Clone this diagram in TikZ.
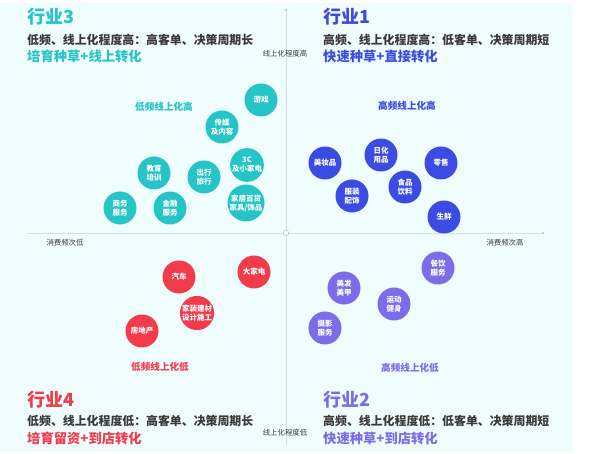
\documentclass[tikz,border=0pt]{standalone}
\usepackage{fontspec}
\setmainfont{Noto Sans CJK SC}
\usepackage{tikz}

\definecolor{panelbg}{HTML}{F0FDFE}
\definecolor{axisgray}{HTML}{D5E2E4}
\definecolor{inkgray}{HTML}{3A3A3A}
\definecolor{tealc}{HTML}{26C4C6}
\definecolor{bluec}{HTML}{3C4CE2}
\definecolor{lavc}{HTML}{7B6CE8}
\definecolor{redc}{HTML}{F23C4C}

\tikzset{
  bubble/.style={circle, minimum size=33pt, inner sep=0pt, text=white, align=center,
    font=\bfseries\fontsize{7.5}{9}\selectfont},
  tealbubble/.style={bubble, fill=tealc},
  bluebubble/.style={bubble, fill=bluec},
  lavbubble/.style={bubble, fill=lavc},
  redbubble/.style={bubble, fill=redc},
  title/.style={anchor=west, inner sep=0pt, font=\bfseries\fontsize{18}{20}\selectfont},
  subtitle/.style={anchor=west, inner sep=0pt, text=inkgray, font=\bfseries\fontsize{11.9}{13}\selectfont},
  strategy/.style={anchor=west, inner sep=0pt, font=\bfseries\fontsize{13.3}{15}\selectfont},
  zonelabel/.style={inner sep=0pt, font=\bfseries\fontsize{9.6}{11}\selectfont},
  axislabel/.style={inner sep=0pt, text=inkgray, font=\fontsize{7.4}{8}\selectfont}
}

\begin{document}
\begin{tikzpicture}[x=1pt,y=-1pt]
  \useasboundingbox (0,0) rectangle (600,454);
  \fill[panelbg] (0,3) rectangle (573,452);

  % axes
  \coordinate (xl) at (27,233);
  \coordinate (xr) at (543,233);
  \coordinate (yt) at (286,10);
  \coordinate (yb) at (286,445);
  \coordinate (o) at (286,233);
  \draw[axisgray, line width=0.8pt] (xl) -- (xr);
  \draw[axisgray, line width=0.8pt] (yt) -- (yb);
  \fill[axisgray!80!gray] (xr) circle (1.3);
  \fill[axisgray!80!gray] (yt) circle (1.3);
  \draw[axisgray!70!gray, fill=white, line width=0.6pt] (o) circle (2.6);

  \node[axislabel] (ytop) at (285,54) {线上化程度高};
  \node[axislabel] (ybot) at (285,433) {线上化程度低};
  \node[axislabel] (xlow) at (65,243) {消费频次低};
  \node[axislabel] (xhigh) at (505,243) {消费频次高};

  % quadrant 3
  \node[title, text=tealc] (t3) at (27,17) {行业3};
  \node[subtitle] (s3) at (27,40) {低频、线上化程度高：高客单、决策周期长};
  \node[strategy, text=tealc] (g3) at (27,56) {培育种草+线上转化};
  \node[zonelabel, text=tealc] (z3) at (164,107) {低频线上化高};
  \node[tealbubble] (game) at (261,100) {游戏};
  \node[tealbubble] (media) at (222,127) {传媒\\及内容};
  \node[tealbubble] (appl) at (247,165) {3C\\及小家电};
  \node[tealbubble] (edu) at (154,173) {教育\\培训};
  \node[tealbubble] (travel) at (204,177) {出行\\旅行};
  \node[tealbubble] (biz) at (120,208) {商务\\服务};
  \node[tealbubble] (fin) at (170,208) {金融\\服务};
  \node[tealbubble, minimum size=37pt] (home) at (246,203) {家居百货\\家具/饰品};

  % quadrant 1
  \node[title, text=bluec] (t1) at (323,17) {行业1};
  \node[subtitle] (s1) at (323,40) {高频、线上化程度高：低客单、决策周期短};
  \node[strategy, text=bluec] (g1) at (323,56) {快速种草+直接转化};
  \node[zonelabel, text=bluec] (z1) at (407,106) {高频线上化高};
  \node[bluebubble] (beauty) at (325,163) {美妆品};
  \node[bluebubble] (daily) at (381,155) {日化\\用品};
  \node[bluebubble] (retail) at (441,163) {零售};
  \node[bluebubble] (cloth) at (352,196) {服装\\配饰};
  \node[bluebubble] (food) at (405,187) {食品\\饮料};
  \node[bluebubble] (fresh) at (444,217) {生鲜};

  % quadrant 4
  \node[redbubble] (car) at (179,277) {汽车};
  \node[redbubble] (bigapp) at (254,272) {大家电};
  \node[redbubble] (deco) at (197,313) {家装建材\\设计施工};
  \node[redbubble] (estate) at (142,331) {房地产};
  \node[zonelabel, text=redc] (z4) at (160,367) {低频线上化低};
  \node[title, text=redc] (t4) at (27,400) {行业4};
  \node[subtitle] (s4) at (27,421) {低频、线上化程度低：高客单、决策周期长};
  \node[strategy, text=redc] (g4) at (27,438) {培育留资+到店转化};

  % quadrant 2
  \node[lavbubble] (dine) at (438,268) {餐饮\\服务};
  \node[lavbubble] (hair) at (344,288) {美发\\美甲};
  \node[lavbubble] (sport) at (394,304) {运动\\健身};
  \node[lavbubble] (photo) at (325,328) {摄影\\服务};
  \node[zonelabel, text=lavc] (z2) at (410,368) {高频线上化低};
  \node[title, text=lavc] (t2) at (323,400) {行业2};
  \node[subtitle] (s2) at (323,421) {高频、线上化程度低：低客单、决策周期短};
  \node[strategy, text=lavc] (g2) at (323,438) {快速种草+到店转化};
\end{tikzpicture}
\end{document}
